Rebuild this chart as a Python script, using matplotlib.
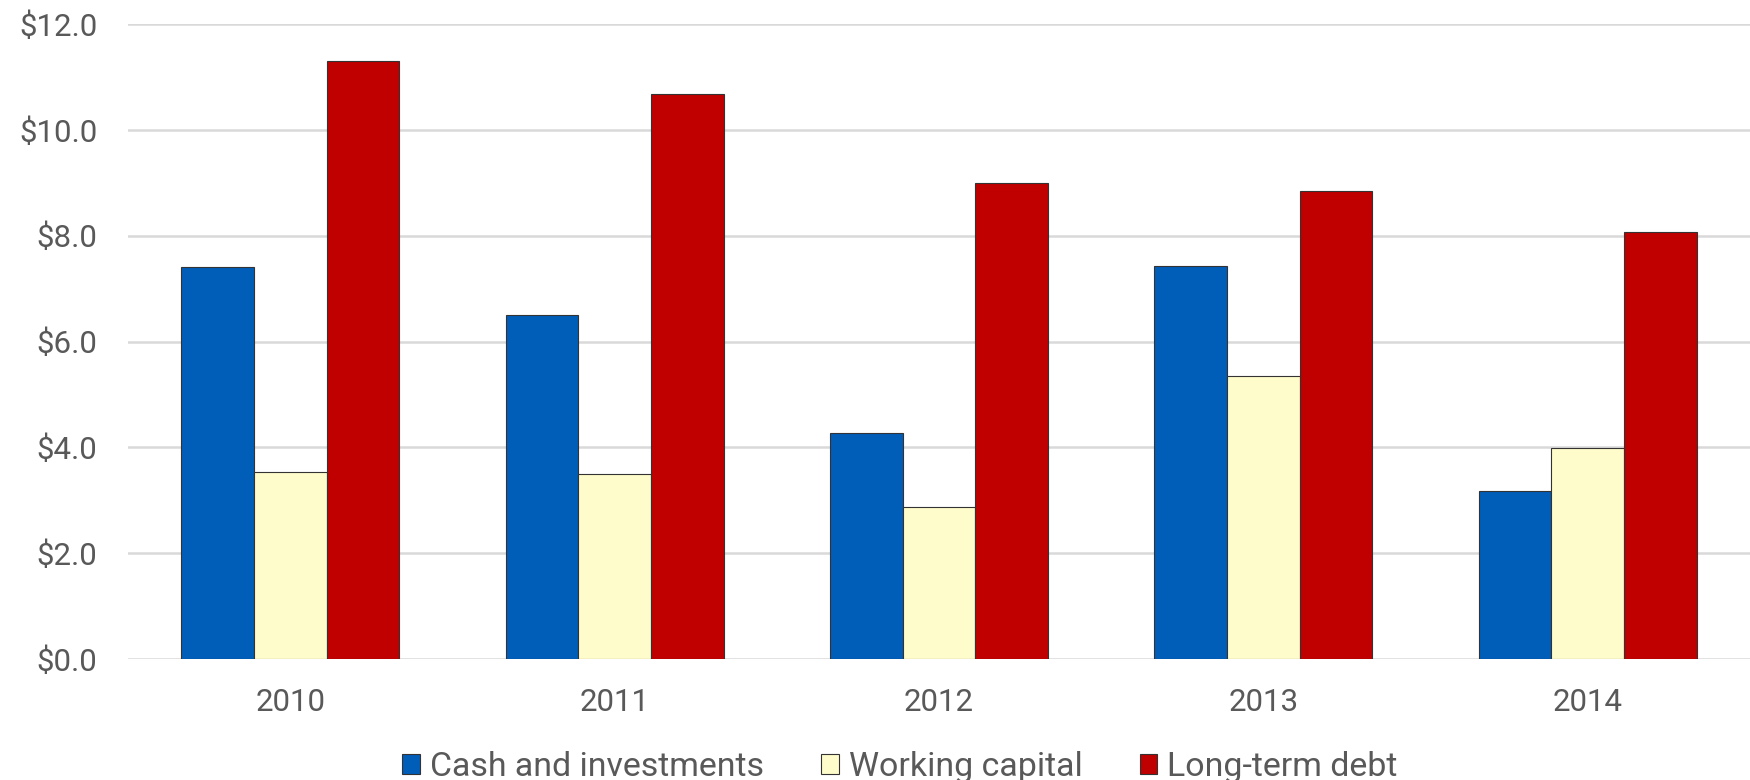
import matplotlib
matplotlib.use("Agg")
import matplotlib.pyplot as plt
import numpy as np
from matplotlib.patches import Patch

years = ["2010", "2011", "2012", "2013", "2014"]
cash = [7.40, 6.50, 4.27, 7.42, 3.17]
working = [3.53, 3.49, 2.88, 5.34, 3.98]
debt = [11.30, 10.67, 8.99, 8.85, 8.06]
series_names = ["Cash and investments", "Working capital", "Long-term debt"]
colors = ["#005EB8", "#FFFCCB", "#C00000"]
yticks = [0, 2, 4, 6, 8, 10, 12]

plt.rcParams['font.family'] = ['Roboto', 'DejaVu Sans']
text_color = "#595959"

fig = plt.figure(figsize=(17.5, 7.8), dpi=100)
ax = fig.add_axes([128/1750, 1-659/780, 1-128/1750, (659-24)/780])

x = np.arange(len(years))
w = 0.224
for i, (vals, c) in enumerate(zip([cash, working, debt], colors)):
    ax.bar(x + (i-1)*w, vals, width=w, color=c, edgecolor="#333333", linewidth=0.8, zorder=3)

ax.set_xlim(-0.5, len(years)-0.5)
ax.set_ylim(0, 12)
ax.set_yticks(yticks)
ax.set_yticklabels([f"${v:.1f}" for v in yticks])
ax.set_xticks(x)
ax.set_xticklabels(years)
ax.yaxis.grid(True, color="#D9D9D9", linewidth=1.8, zorder=0)
ax.set_axisbelow(True)
for s in ax.spines.values():
    s.set_visible(False)
ax.tick_params(axis='both', length=0, labelsize=22.5, labelcolor=text_color)
ax.tick_params(axis='y', pad=22)
ax.tick_params(axis='x', pad=21)

handles = [Patch(facecolor=c, edgecolor="#333333", linewidth=0.8) for c in colors]
fig.legend(handles, series_names, loc='center', bbox_to_anchor=(900/1750, 1-767/780),
           ncol=3, frameon=False, fontsize=24.4, labelcolor=text_color,
           handlelength=0.52, handleheight=0.52, handletextpad=0.3, columnspacing=1.68,
           borderpad=0, borderaxespad=0)

fig.savefig("out.png", dpi=100)
